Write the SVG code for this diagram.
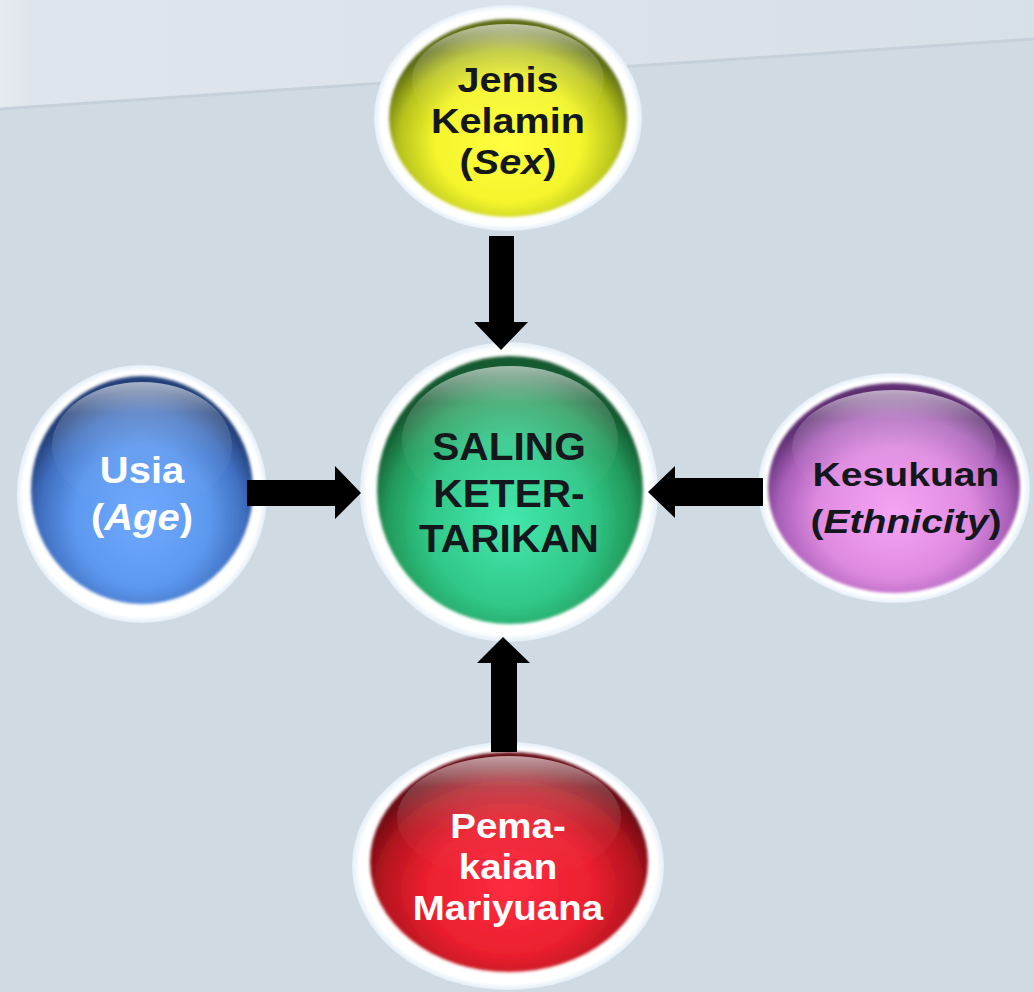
<svg xmlns="http://www.w3.org/2000/svg" width="1034" height="992" viewBox="0 0 1034 992">
<defs>
<linearGradient id="bandG" x1="0" y1="0" x2="1" y2="0">
<stop offset="0" stop-color="#e6ebf0"/>
<stop offset="0.03" stop-color="#dfe5ec"/>
<stop offset="1" stop-color="#d8e0e7"/>
</linearGradient>
<linearGradient id="hl" x1="0" y1="0" x2="0" y2="1">
<stop offset="0" stop-color="#ffffff" stop-opacity="0.6"/>
<stop offset="0.25" stop-color="#ffffff" stop-opacity="0.2"/>
<stop offset="0.6" stop-color="#ffffff" stop-opacity="0.05"/>
<stop offset="1" stop-color="#ffffff" stop-opacity="0"/>
</linearGradient>
<radialGradient id="halo" cx="0.5" cy="0.5" r="0.5">
<stop offset="0.86" stop-color="#ffffff"/>
<stop offset="0.95" stop-color="#ffffff"/>
<stop offset="1" stop-color="#e3eef8"/>
</radialGradient>
<radialGradient id="gY" cx="0.5" cy="0.62" r="0.56">
<stop offset="0" stop-color="#ffff40"/>
<stop offset="0.55" stop-color="#f4f52c"/>
<stop offset="0.82" stop-color="#b6c21c"/>
<stop offset="1" stop-color="#5f6e12"/>
</radialGradient>
<radialGradient id="gG" cx="0.5" cy="0.62" r="0.56">
<stop offset="0" stop-color="#44e8ae"/>
<stop offset="0.55" stop-color="#30c888"/>
<stop offset="0.82" stop-color="#239b5c"/>
<stop offset="1" stop-color="#155a30"/>
</radialGradient>
<radialGradient id="gB" cx="0.5" cy="0.62" r="0.56">
<stop offset="0" stop-color="#70aaff"/>
<stop offset="0.55" stop-color="#5c98ee"/>
<stop offset="0.82" stop-color="#3f6fc0"/>
<stop offset="1" stop-color="#223f78"/>
</radialGradient>
<radialGradient id="gP" cx="0.5" cy="0.62" r="0.56">
<stop offset="0" stop-color="#f7a4f4"/>
<stop offset="0.55" stop-color="#df8ae0"/>
<stop offset="0.82" stop-color="#a95fb8"/>
<stop offset="1" stop-color="#5e2f72"/>
</radialGradient>
<radialGradient id="gR" cx="0.5" cy="0.62" r="0.56">
<stop offset="0" stop-color="#ff2c40"/>
<stop offset="0.55" stop-color="#ea1f2e"/>
<stop offset="0.82" stop-color="#b3141f"/>
<stop offset="1" stop-color="#6a0b12"/>
</radialGradient>
<filter id="soft" x="-5%" y="-5%" width="110%" height="110%">
<feGaussianBlur stdDeviation="1.5"/>
</filter>
</defs>
<style>
.t{font-family:"Liberation Sans",Arial,sans-serif;font-weight:bold;text-anchor:middle}
.dk{fill:#14181c}
.wh{fill:#ffffff}
.it{font-style:italic}
.arrow{fill:#000000}
.gl{fill:url(#hl)}
</style>

<rect width="1034" height="992" fill="#d0dae3"/>
<polygon points="0,0 1034,0 1034,38 0,108" fill="url(#bandG)"/>
<line x1="0" y1="109" x2="1034" y2="39" stroke="#c6d0da" stroke-width="3"/>

<g id="node-jenis-kelamin">
<ellipse cx="508" cy="118" rx="134" ry="113" fill="url(#halo)"/>
<ellipse cx="508" cy="118" rx="119" ry="99" fill="url(#gY)" filter="url(#soft)"/>
<ellipse class="gl" cx="508" cy="80" rx="96" ry="56"/>
<g transform="translate(508 0) scale(1.1 1)">
<text class="t dk" font-size="36" x="0" y="92">Jenis</text>
<text class="t dk" font-size="36" x="0" y="133">Kelamin</text>
<text class="t dk" font-size="36" x="0" y="174">(<tspan class="it">Sex</tspan>)</text>
</g>
</g>

<g id="node-saling-ketertarikan">
<ellipse cx="509" cy="492" rx="149" ry="150" fill="url(#halo)"/>
<ellipse cx="510" cy="490" rx="133" ry="134" fill="url(#gG)" filter="url(#soft)"/>
<ellipse class="gl" cx="510" cy="440" rx="108" ry="74"/>
<g transform="translate(509 0) scale(1.07 1)">
<text class="t dk" font-size="38" x="0" y="460">SALING</text>
<text class="t dk" font-size="38" x="0" y="507">KETER-</text>
<text class="t dk" font-size="38" x="0" y="552">TARIKAN</text>
</g>
</g>

<g id="node-usia">
<ellipse cx="142" cy="494" rx="125" ry="129" fill="url(#halo)"/>
<ellipse cx="142" cy="490" rx="111" ry="114" fill="url(#gB)" filter="url(#soft)"/>
<ellipse class="gl" cx="142" cy="446" rx="90" ry="64"/>
<g transform="translate(142 0) scale(1.08 1)">
<text class="t wh" font-size="37" x="0" y="483">Usia</text>
<text class="t wh" font-size="37" x="0" y="530">(<tspan class="it">Age</tspan>)</text>
</g>
</g>

<g id="node-kesukuan">
<ellipse cx="894" cy="488" rx="136" ry="115" fill="url(#halo)"/>
<ellipse cx="894" cy="488" rx="126" ry="105" fill="url(#gP)" filter="url(#soft)"/>
<ellipse class="gl" cx="894" cy="448" rx="102" ry="58"/>
<g transform="translate(906 0) scale(1.15 1)">
<text class="t dk" font-size="34" x="0" y="486">Kesukuan</text>
<text class="t dk" font-size="34" x="0" y="533">(<tspan class="it">Ethnicity</tspan>)</text>
</g>
</g>

<g id="node-pemakaian-mariyuana">
<ellipse cx="508" cy="866" rx="156" ry="124" fill="url(#halo)"/>
<ellipse cx="509" cy="862" rx="139" ry="110" fill="url(#gR)" filter="url(#soft)"/>
<ellipse class="gl" cx="509" cy="818" rx="112" ry="62"/>
<g transform="translate(508 0) scale(1.1 1)">
<text class="t wh" font-size="35" x="0" y="838">Pema-</text>
<text class="t wh" font-size="35" x="0" y="879">kaian</text>
<text class="t wh" font-size="35" x="0" y="920">Mariyuana</text>
</g>
</g>

<g id="connectors">
<polygon class="arrow" points="489,236 514,236 514,322 528,322 501,350 474,322 489,322"/>
<polygon class="arrow" points="247,480 335,480 335,466 361,493 335,519 335,506 247,506"/>
<polygon class="arrow" points="763,478 675,478 675,466 648,492 675,518 675,506 763,506"/>
<polygon class="arrow" points="491,752 491,663 477,663 503,637 530,663 517,663 517,752"/>
</g>
</svg>
